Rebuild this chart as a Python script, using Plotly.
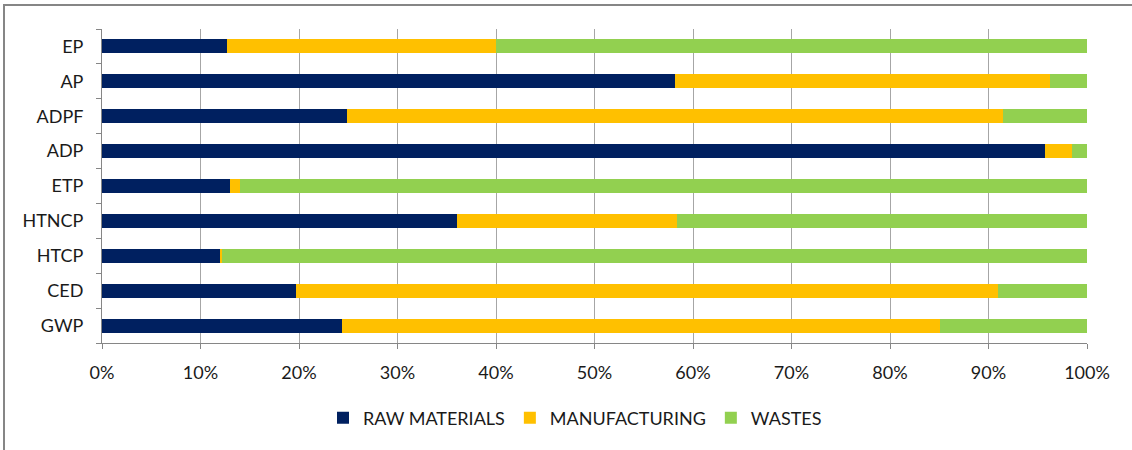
import plotly.graph_objects as go

categories = ["GWP", "CED", "HTCP", "HTNCP", "ETP", "ADP", "ADPF", "AP", "EP"]
raw_materials = [24.4, 19.7, 12.0, 36.0, 13.0, 95.7, 24.9, 58.2, 12.7]
manufacturing = [60.7, 71.3, 0.2, 22.4, 1.0, 2.8, 66.6, 38.0, 27.3]
wastes = [14.9, 9.0, 87.8, 41.6, 86.0, 1.5, 8.5, 3.8, 60.0]
x_ticks = [0, 10, 20, 30, 40, 50, 60, 70, 80, 90, 100]

series = [
    ("RAW MATERIALS", raw_materials, "#002060"),
    ("MANUFACTURING", manufacturing, "#FFC000"),
    ("WASTES", wastes, "#92D050"),
]

FONT = "Lato"
fig = go.Figure()
for name, vals, color in series:
    fig.add_trace(go.Bar(
        y=categories, x=vals, name=name, orientation="h",
        marker=dict(color=color, line=dict(width=0)),
    ))

L, R, T, B = 102, 45, 29, 107
W, H = 1132, 450
pw = W - L - R
ph = H - T - B

def px_x(px):
    return (px - L) / pw

def px_y(py):
    return (H - B - py) / ph

fig.update_layout(
    width=W, height=H,
    margin=dict(l=L, r=R, t=T, b=B, pad=0),
    barmode="stack", bargap=0.6,
    plot_bgcolor="white", paper_bgcolor="white",
    font=dict(family=FONT, size=18, color="#1a1a1a"),
    showlegend=True,
    legend=dict(orientation="h", x=px_x(575), xanchor="center",
                y=px_y(418), yanchor="middle",
                font=dict(family=FONT, size=18, color="#1a1a1a"),
                traceorder="normal", itemwidth=30),
    xaxis=dict(range=[0, 100], tickvals=x_ticks,
               ticktext=[f"{v}%" for v in x_ticks],
               tickfont=dict(size=18),
               showgrid=True, gridcolor="#A6A6A6", gridwidth=1,
               showline=True, linecolor="#868686", linewidth=1,
               ticks="outside", ticklen=5, tickcolor="#868686",
               ticklabelstandoff=8, zeroline=False, fixedrange=True),
    yaxis=dict(type="category", categoryorder="array", categoryarray=categories,
               tickfont=dict(size=18),
               showgrid=False, showline=True, linecolor="#868686", linewidth=1,
               ticks="outside", ticklen=5, tickcolor="#868686",
               tickson="boundaries", ticklabelstandoff=14, fixedrange=True),
    shapes=[
        dict(type="line", xref="paper", yref="paper",
             x0=px_x(3), x1=px_x(1132), y0=px_y(5), y1=px_y(5),
             line=dict(color="#868686", width=2)),
        dict(type="line", xref="paper", yref="paper",
             x0=px_x(4), x1=px_x(4), y0=px_y(4), y1=px_y(450),
             line=dict(color="#868686", width=2)),
    ],
)

fig.write_html("out.html")
